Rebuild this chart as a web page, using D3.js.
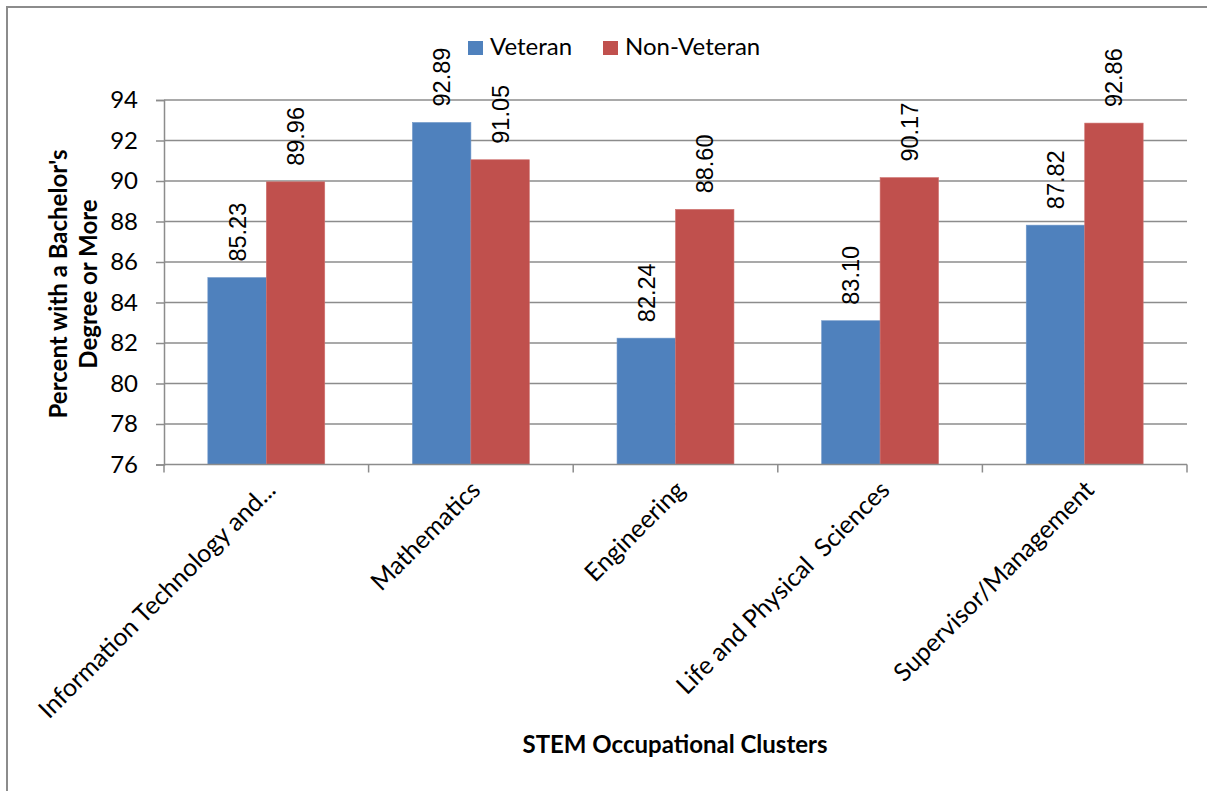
<!DOCTYPE html>
<html><head><meta charset="utf-8">
<script src="https://cdn.jsdelivr.net/npm/d3@7"></script>
<style>body{margin:0;background:#fff}svg{display:block}</style>
</head><body>
<script>
const categories = ["Information Technology and...", "Mathematics", "Engineering", "Life and Physical  Sciences", "Supervisor/Management"];
const seriesNames = ["Veteran", "Non-Veteran"];
const veteran = [85.23, 92.89, 82.24, 83.10, 87.82];
const nonVeteran = [89.96, 91.05, 88.60, 90.17, 92.86];
const yTicks = [76, 78, 80, 82, 84, 86, 88, 90, 92, 94];
const colors = ["#4F81BD", "#C0504D"];

const W = 1207, H = 791;
const svg = d3.select("body").append("svg").attr("width", W).attr("height", H);
const L = 164, R = 1187, T = 100, B = 464.5;
const x = d3.scaleBand().domain(categories).range([L, R]).paddingInner(0).paddingOuter(0);
const x1 = d3.scaleBand().domain(seriesNames).range([0, x.bandwidth()]).paddingOuter(0.75).paddingInner(0);
const y = d3.scaleLinear().domain([76, 94]).range([B, T]);
const grey = "#8c8c8c";
const font = "Lato, 'Noto Sans', sans-serif";

// outer border
svg.append("path").attr("d", `M7,${H} L7,7 L${W},7`).attr("fill","none").attr("stroke", grey).attr("stroke-width", 2);

// gridlines
svg.append("g").selectAll("line").data(yTicks.slice(1)).join("line")
  .attr("x1", L).attr("x2", R).attr("y1", d => y(d)).attr("y2", d => y(d))
  .attr("stroke", grey).attr("stroke-width", 1.5);

// y axis
const yAxis = svg.append("g").attr("transform", `translate(${L},0)`)
  .call(d3.axisLeft(y).tickValues(yTicks).tickSize(8).tickPadding(18).tickFormat(d3.format("d")));
yAxis.select(".domain").attr("stroke", grey).attr("stroke-width", 1.5);
yAxis.selectAll(".tick line").attr("stroke", grey).attr("stroke-width", 1.5);
yAxis.selectAll("text").attr("font-family", font).attr("font-size", 24).attr("fill", "#000");

// bars
const data = categories.map((c, i) => ({c, vals: [veteran[i], nonVeteran[i]]}));
const groups = svg.append("g").selectAll("g").data(data).join("g")
  .attr("transform", d => `translate(${x(d.c)},0)`);
groups.selectAll("rect").data(d => d.vals.map((v, j) => ({v, s: seriesNames[j], j}))).join("rect")
  .attr("x", d => x1(d.s)).attr("width", x1.bandwidth())
  .attr("y", d => y(d.v)).attr("height", d => y(76) - y(d.v))
  .attr("fill", d => colors[d.j]).attr("stroke", d => d.j === 0 ? "#6f97c9" : "#cf7471").attr("stroke-width", 0.6);
groups.selectAll("text").data(d => d.vals.map((v, j) => ({v, s: seriesNames[j], j}))).join("text")
  .attr("transform", d => `translate(${x1(d.s) + x1.bandwidth()/2 + 8.5},${y(d.v) - 16}) rotate(-90)`)
  .attr("font-family", "'Liberation Sans', Arial, sans-serif").attr("font-size", 23.5)
  .attr("text-anchor", "start").attr("fill", "#000")
  .text(d => d3.format(".2f")(d.v));

// x axis
const xAxis = svg.append("g").attr("transform", `translate(0,${B})`);
xAxis.append("line").attr("x1", L).attr("x2", R).attr("stroke", grey).attr("stroke-width", 1.5);
const bounds = [L].concat(categories.map(c => x(c) + x.bandwidth()));
xAxis.selectAll("line.tk").data(bounds).join("line").attr("class","tk")
  .attr("x1", d => d).attr("x2", d => d).attr("y1", 0).attr("y2", 8)
  .attr("stroke", grey).attr("stroke-width", 1.5);
xAxis.selectAll("text").data(categories).join("text")
  .attr("transform", c => `translate(${x(c) + x.bandwidth()/2 + 11},${27}) rotate(-45)`)
  .attr("text-anchor", "end").attr("font-family", font).attr("font-size", 25).attr("fill", "#000")
  .style("white-space", "pre")
  .text(c => c);

// axis titles
svg.append("text").attr("x", 675).attr("y", 753).attr("text-anchor", "middle")
  .attr("font-family", font).attr("font-weight", "bold").attr("font-size", 24).text("STEM Occupational Clusters");
const yt = svg.append("text").attr("transform", "translate(0,284) rotate(-90)")
  .attr("text-anchor", "middle").attr("font-family", font).attr("font-weight", "bold").attr("font-size", 24);
yt.append("tspan").attr("x", 0).attr("y", 67).text("Percent with a Bachelor's");
yt.append("tspan").attr("x", 0).attr("y", 97).text("Degree or More");

// legend
const leg = svg.append("g");
const legX = [468, 603];
seriesNames.forEach((s, i) => {
  leg.append("rect").attr("x", legX[i]).attr("y", 41).attr("width", 15).attr("height", 14).attr("fill", colors[i]);
  leg.append("text").attr("x", legX[i] + 22).attr("y", 55).attr("font-family", font).attr("font-size", 24).text(s);
});
</script>
</body></html>
